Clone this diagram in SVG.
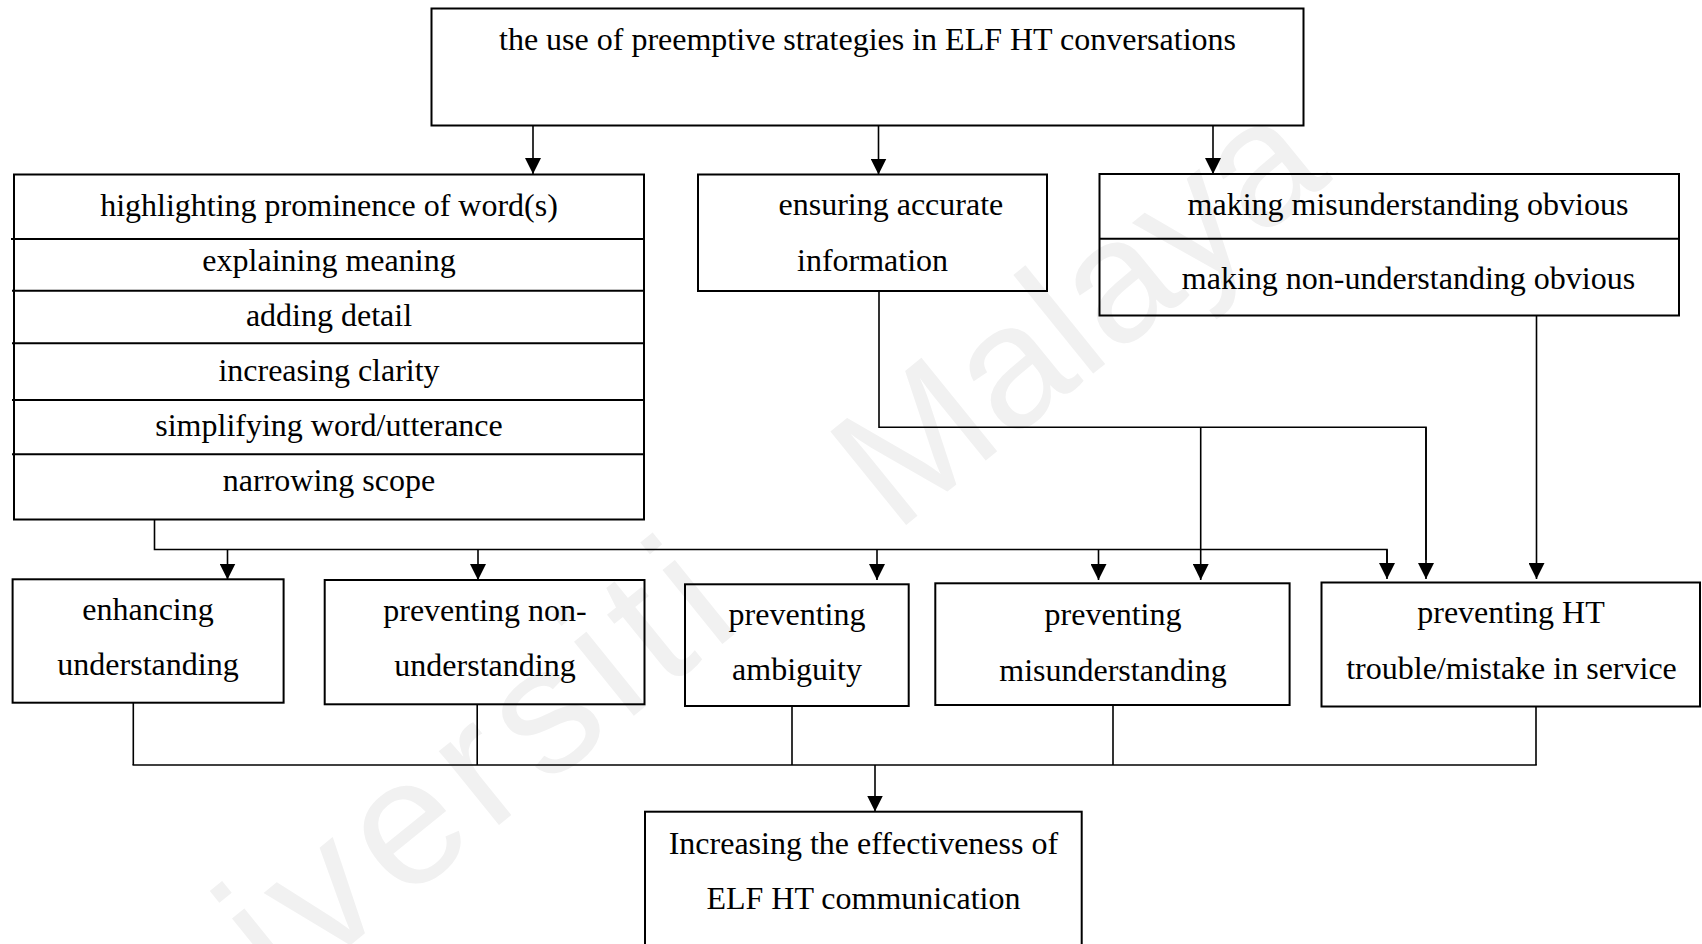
<svg xmlns="http://www.w3.org/2000/svg" width="1702" height="944" viewBox="0 0 1702 944">
  <style>
    .box { fill: none; stroke: #000000; stroke-width: 2; }
    .div { stroke: #000000; stroke-width: 2; fill: none; }
    .wire { stroke: #000000; stroke-width: 1.6; fill: none; }
    .arrow { stroke: #000000; stroke-width: 1.6; fill: none; marker-end: url(#head); }
    text { font-family: "Liberation Serif", "Times New Roman", serif; font-size: 32px; fill: #000000; }
    .c { text-anchor: middle; }
    text.mark { font-family: "Liberation Sans", Arial, sans-serif; fill: #f1f1f1; }
    text.mark1 { font-size: 180px; letter-spacing: 12px; }
    text.mark2 { font-size: 175px; }
  </style>
  <defs>
    <marker id="head" markerUnits="userSpaceOnUse" markerWidth="16" markerHeight="16" refX="16" refY="8" orient="auto">
      <path d="M0,0 L16,8 L0,16 z" fill="#000000"/>
    </marker>
  </defs>

  <rect x="0" y="0" width="1702" height="944" fill="#ffffff"/>

  <!-- background watermark, seen through the unfilled boxes -->
  <g id="watermark">
    <text class="mark mark1" x="85" y="1160" transform="rotate(-39 85 1160)">Universiti</text>
    <text class="mark mark2" x="895" y="534" transform="rotate(-39 895 534)">Malaya</text>
  </g>

  <!-- connectors -->
  <g id="connectors">
    <!-- from the top box -->
    <line class="arrow" x1="533" y1="125.5" x2="533" y2="174"/>
    <line class="arrow" x1="878.5" y1="125.5" x2="878.5" y2="174.5"/>
    <line class="arrow" x1="1213" y1="125.5" x2="1213" y2="174"/>

    <!-- from the strategy list -->
    <polyline class="wire" points="154.5,519.5 154.5,549.5 1387,549.5 1387,565"/>
    <line class="arrow" x1="1387" y1="549.5" x2="1387" y2="579"/>
    <line class="arrow" x1="227.5" y1="549.5" x2="227.5" y2="579.5"/>
    <line class="arrow" x1="478" y1="549.5" x2="478" y2="580"/>
    <line class="arrow" x1="877" y1="549.5" x2="877" y2="580"/>
    <line class="arrow" x1="1098.5" y1="549.5" x2="1098.5" y2="580"/>

    <!-- from ensuring accurate information -->
    <polyline class="wire" points="879,291 879,427.3 1426,427.3 1426,560"/>
    <line class="arrow" x1="1426" y1="427.3" x2="1426" y2="579"/>
    <line class="arrow" x1="1200.7" y1="427.3" x2="1200.7" y2="580"/>

    <!-- from making (non-)understanding obvious -->
    <line class="arrow" x1="1536.5" y1="315.5" x2="1536.5" y2="579"/>

    <!-- outcomes gathered into the final box -->
    <line class="wire" x1="133.3" y1="702.7" x2="133.3" y2="765"/>
    <line class="wire" x1="477.2" y1="704.3" x2="477.2" y2="765"/>
    <line class="wire" x1="792" y1="706" x2="792" y2="765"/>
    <line class="wire" x1="1113" y1="705" x2="1113" y2="765"/>
    <line class="wire" x1="1536" y1="706.5" x2="1536" y2="765"/>
    <line class="wire" x1="132.5" y1="765" x2="1536.8" y2="765"/>
    <line class="arrow" x1="875" y1="765" x2="875" y2="811.5"/>
  </g>

  <g id="top">
    <rect class="box" x="431.5" y="8.5" width="872" height="117"/>
    <text class="c" x="867.5" y="50">the use of preemptive strategies in ELF HT conversations</text>
  </g>

  <g id="strategies">
    <rect class="box" x="14" y="174.5" width="630" height="345"/>
    <line class="div" x1="11" y1="239" x2="644" y2="239"/>
    <line class="div" x1="12" y1="290.7" x2="644" y2="290.7"/>
    <line class="div" x1="12" y1="343.3" x2="644" y2="343.3"/>
    <line class="div" x1="12" y1="400" x2="644" y2="400"/>
    <line class="div" x1="12" y1="454.3" x2="644" y2="454.3"/>
    <text class="c" x="329" y="216">highlighting prominence of word(s)</text>
    <text class="c" x="329" y="271">explaining meaning</text>
    <text class="c" x="329" y="325.5">adding detail</text>
    <text class="c" x="329" y="380.5">increasing clarity</text>
    <text class="c" x="329" y="435.5">simplifying word/utterance</text>
    <text class="c" x="329" y="491">narrowing scope</text>
  </g>

  <g id="ensuring">
    <rect class="box" x="698" y="174.5" width="349" height="116.5"/>
    <text x="778.5" y="215">ensuring accurate</text>
    <text x="797" y="271">information</text>
  </g>

  <g id="making-obvious">
    <rect class="box" x="1099.5" y="174" width="579.5" height="141.5"/>
    <line class="div" x1="1099.5" y1="238.7" x2="1679" y2="238.7"/>
    <text class="c" x="1408" y="214.5">making misunderstanding obvious</text>
    <text class="c" x="1408.5" y="289">making non-understanding obvious</text>
  </g>

  <g id="enhancing">
    <rect class="box" x="12.6" y="579.3" width="271" height="123.4"/>
    <text class="c" x="148" y="620">enhancing</text>
    <text class="c" x="148" y="675">understanding</text>
  </g>

  <g id="non-understanding">
    <rect class="box" x="324.7" y="580" width="319.8" height="124.3"/>
    <text class="c" x="485" y="621">preventing non-</text>
    <text class="c" x="485" y="676">understanding</text>
  </g>

  <g id="ambiguity">
    <rect class="box" x="685" y="584.3" width="223.7" height="121.7"/>
    <text class="c" x="797" y="625">preventing</text>
    <text class="c" x="797" y="680">ambiguity</text>
  </g>

  <g id="misunderstanding">
    <rect class="box" x="935.3" y="583.3" width="354.3" height="121.7"/>
    <text class="c" x="1113" y="625">preventing</text>
    <text class="c" x="1113" y="681">misunderstanding</text>
  </g>

  <g id="ht-trouble">
    <rect class="box" x="1321.5" y="582.5" width="378.5" height="124"/>
    <text class="c" x="1511" y="623">preventing HT</text>
    <text class="c" x="1511.5" y="679">trouble/mistake in service</text>
  </g>

  <g id="effectiveness">
    <rect class="box" x="645" y="811.7" width="436.7" height="140"/>
    <text class="c" x="863.4" y="854">Increasing the effectiveness of</text>
    <text class="c" x="863.4" y="909">ELF HT communication</text>
  </g>
</svg>
